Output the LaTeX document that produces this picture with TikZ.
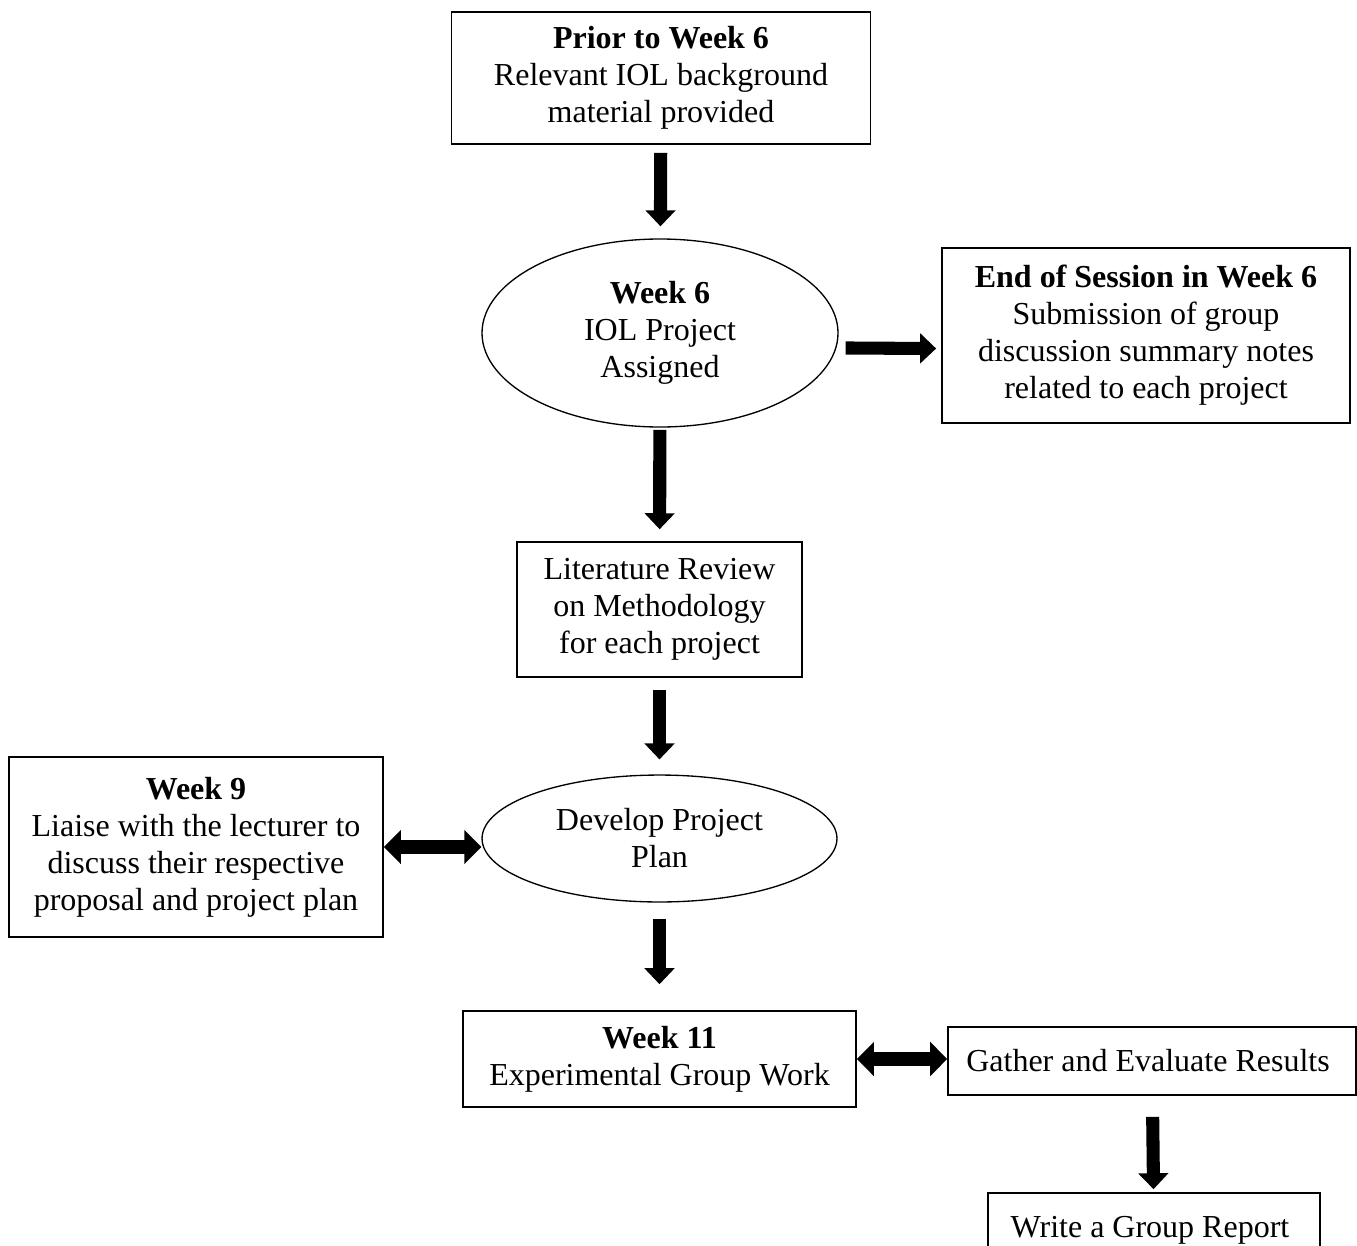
\documentclass[tikz,border=0pt]{standalone}
\usepackage{fontspec}
\setmainfont{Liberation Serif}
\usetikzlibrary{shapes,arrows.meta}

\begin{document}
\begin{tikzpicture}[x=0.375pt,y=-0.375pt,
    font=\fontsize{12}{13.9}\selectfont,
    bigarrow/.style={line width=4.9pt,-{Triangle[length=6pt,width=11pt]}},
    botharrow/.style={line width=4.9pt,{Triangle[length=6.4pt,width=12.5pt]}-{Triangle[length=6.4pt,width=12.5pt]}}]

\useasboundingbox (0,0) rectangle (1357,1245);

\node[draw,
    line width=0.6pt,
    minimum width=157pt,
    minimum height=49.5pt,
    inner sep=0pt,
    align=center
] (prior) at (661,78) { \textbf{Prior to Week 6}\\Relevant IOL background\\material provided };

\node[draw,
    ellipse,
    line width=0.5pt,
    minimum width=133.5pt,
    minimum height=70.5pt,
    inner sep=0pt,
    align=center
] (week6) at (660,333) { \textbf{Week 6}\\IOL Project\\Assigned };

\node[draw,
    line width=0.6pt,
    minimum width=153pt,
    minimum height=65.6pt,
    inner sep=0pt,
    align=center
] (endsession) at (1146,335.5) { \textbf{End of Session in Week 6}\\Submission of group\\discussion summary notes\\related to each project };

\node[draw,
    line width=0.6pt,
    minimum width=106.9pt,
    minimum height=50.6pt,
    inner sep=0pt,
    align=center
] (litrev) at (659.5,609.5) { Literature Review\\on Methodology\\for each project };

\node[draw,
    ellipse,
    line width=0.5pt,
    minimum width=133.1pt,
    minimum height=47.6pt,
    inner sep=0pt,
    align=center
] (develop) at (659.5,838.5) { Develop Project\\Plan };

\node[draw,
    line width=0.6pt,
    minimum width=140.3pt,
    minimum height=67.5pt,
    inner sep=0pt,
    align=center
] (week9) at (196,847) { \textbf{Week 9}\\Liaise with the lecturer to\\discuss their respective\\proposal and project plan };

\node[draw,
    line width=0.6pt,
    minimum width=147.4pt,
    minimum height=36pt,
    inner sep=0pt,
    align=center
] (week11) at (659.5,1059) { \textbf{Week 11}\\Experimental Group Work };

\node[draw,
    line width=0.6pt,
    minimum width=153pt,
    minimum height=25.5pt,
    inner sep=0pt,
    align=center
] (gather) at (1152,1061) { Gather and Evaluate Results };

\node[draw,
    line width=0.6pt,
    minimum width=124.5pt,
    minimum height=27.8pt,
    inner sep=0pt,
    align=center
] (report) at (1154,1230) { Write a Group Report };

\draw[bigarrow, shorten <=3pt, shorten >=4.5pt] (prior) -- (week6);
\draw[bigarrow, shorten <=2.6pt, shorten >=1.9pt] ([yshift=-5.6pt]week6.east) -- ([yshift=-4.9pt]endsession.west);
\draw[bigarrow, shorten <=0.8pt, shorten >=4.5pt] (week6) -- (litrev);
\draw[bigarrow, shorten <=4.5pt, shorten >=5.6pt] (litrev) -- (develop);
\draw[botharrow] (week9.east) -- (week9.east -| develop.west);
\draw[bigarrow, shorten <=6pt, shorten >=9.75pt] (develop) -- (week11);
\draw[botharrow] (week11.east) -- (week11.east -| gather.west);
\draw[bigarrow, shorten <=7.9pt, shorten >=1.1pt] (gather) -- (report);

\end{tikzpicture}
\end{document}
